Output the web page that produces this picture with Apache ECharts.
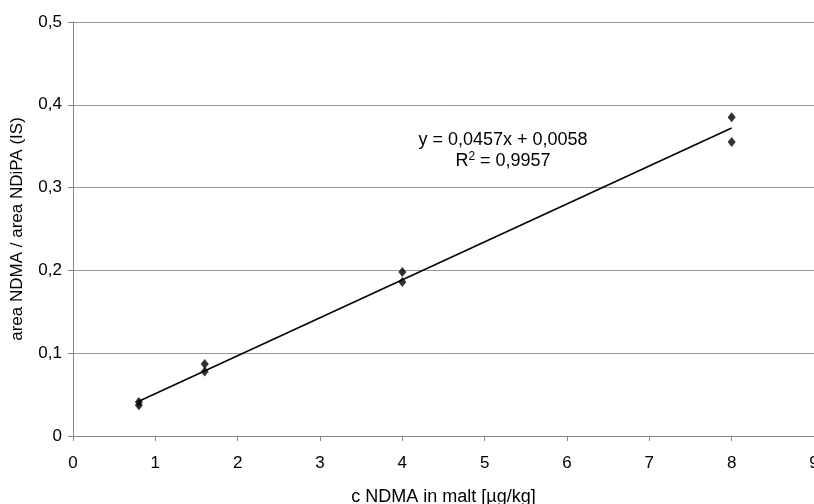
<!DOCTYPE html>
<html>
<head>
<meta charset="utf-8">
<script src="https://cdn.jsdelivr.net/npm/echarts@6/dist/echarts.min.js"></script>
<style>
  html, body { margin: 0; padding: 0; background: #fff; }
  #main { width: 814px; height: 504px; }
</style>
</head>
<body>
<div id="main"></div>
<script>
// measured points
var concX = [0.8, 0.8, 1.6, 1.6, 4, 4, 8, 8];
var ratioY = [0.041, 0.037, 0.087, 0.078, 0.198, 0.186, 0.385, 0.355];

// trend line endpoints
var trendX = [0.8, 8];
var trendY = [0.042, 0.372];

var xTicks = [0, 1, 2, 3, 4, 5, 6, 7, 8, 9];
var yTicks = [0, 0.1, 0.2, 0.3, 0.4, 0.5];

var eqLine = 'y = 0,0457x + 0,0058';
var r2Value = '0,9957';

var font = 'Liberation Sans, Arial, sans-serif';

var points = concX.map(function (x, i) { return [x, ratioY[i]]; });
var trend = trendX.map(function (x, i) { return [x, trendY[i]]; });

var myChart = echarts.init(document.getElementById('main'));

var option = {
  animation: false,
  grid: { left: 73, right: 0, top: 22, bottom: 68, containLabel: false, outerBoundsMode: 'none' },
  xAxis: {
    type: 'value',
    min: xTicks[0],
    max: xTicks[xTicks.length - 1],
    interval: 1,
    name: 'c NDMA in malt [µg/kg]',
    nameLocation: 'middle',
    nameGap: 52,
    nameTextStyle: { color: '#000', fontSize: 18, fontFamily: font },
    axisLine: { show: true, lineStyle: { color: '#888', width: 1 } },
    axisTick: { show: true, length: 5, lineStyle: { color: '#888' } },
    axisLabel: { color: '#000', fontSize: 17, fontFamily: font, margin: 19 },
    splitLine: { show: false }
  },
  yAxis: {
    type: 'value',
    min: yTicks[0],
    max: yTicks[yTicks.length - 1],
    interval: 0.1,
    name: 'area NDMA / area NDiPA (IS)',
    nameLocation: 'middle',
    nameGap: 47,
    nameTextStyle: { color: '#000', fontSize: 17, fontFamily: font },
    axisLine: { show: true, lineStyle: { color: '#888', width: 1 } },
    axisTick: { show: true, length: 5, lineStyle: { color: '#888' } },
    axisLabel: {
      color: '#000', fontSize: 17, fontFamily: font, margin: 11,
      formatter: function (v) { return String(Math.round(v * 10) / 10).replace('.', ','); }
    },
    splitLine: { show: true, lineStyle: { color: '#999', width: 1 } }
  },
  series: [
    {
      name: 'trend',
      type: 'line',
      data: trend,
      symbol: 'none',
      lineStyle: { color: '#000', width: 1.5 },
      silent: true
    },
    {
      name: 'data',
      type: 'scatter',
      data: points,
      symbol: 'diamond',
      symbolSize: [8, 10],
      itemStyle: { color: '#000' }
    }
  ],
  graphic: [
    {
      type: 'text',
      x: 503,
      y: 130,
      style: {
        text: eqLine + '\n{a|R}{sup|2}{a| = ' + r2Value + '}',
        fill: '#000',
        font: '18px ' + font,
        textAlign: 'center',
        lineHeight: 21,
        rich: {
          a: { fontSize: 18, fontFamily: font, fill: '#000', lineHeight: 21 },
          sup: { fontSize: 12, fontFamily: font, fill: '#000', verticalAlign: 'top', lineHeight: 21, padding: [0, 0, 8, 0] }
        }
      }
    }
  ]
};

myChart.setOption(option);
</script>
</body>
</html>
